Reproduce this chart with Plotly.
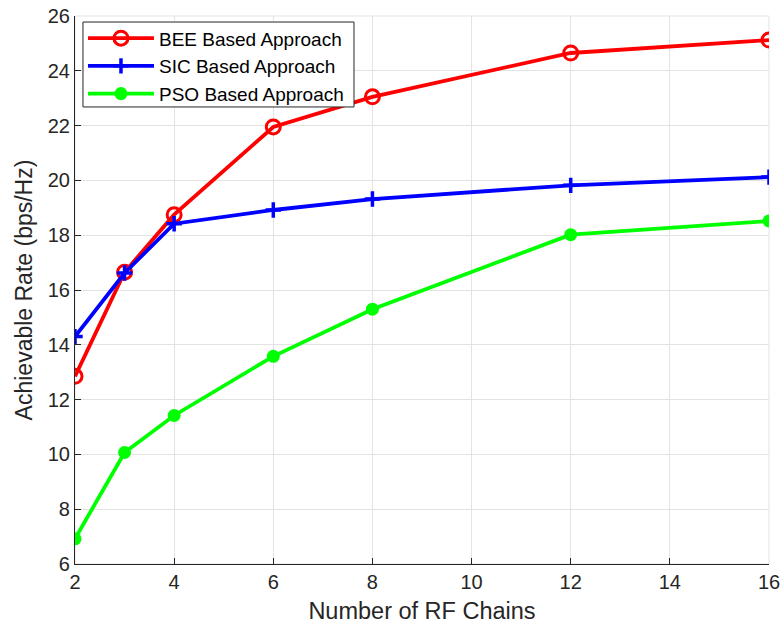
import plotly.graph_objects as go

rf_chains = [2, 3, 4, 6, 8, 12, 16]
bee_rate = [12.85, 16.65, 18.75, 21.95, 23.05, 24.65, 25.12]
sic_rate = [14.3, 16.62, 18.42, 18.92, 19.32, 19.82, 20.12]
pso_rate = [6.92, 10.07, 11.42, 13.58, 15.3, 18.02, 18.52]

x_ticks = [2, 4, 6, 8, 10, 12, 14, 16]
y_ticks = [6, 8, 10, 12, 14, 16, 18, 20, 22, 24, 26]

FONT = "Liberation Sans, Arial, Helvetica, sans-serif"
AX = "#262626"
GRID = "#e3e3e3"

fig = go.Figure()
fig.add_trace(go.Scatter(
    x=rf_chains, y=bee_rate, mode="lines+markers", name="BEE Based Approach",
    line=dict(color="#ff0000", width=3.8),
    marker=dict(symbol="circle-open", size=14, color="#ff0000", line=dict(width=3, color="#ff0000")),
))
fig.add_trace(go.Scatter(
    x=rf_chains, y=sic_rate, mode="lines+markers", name="SIC Based Approach",
    line=dict(color="#0000ff", width=3.8),
    marker=dict(symbol="cross-thin", size=11, color="#0000ff", line=dict(width=3.5, color="#0000ff")),
))
fig.add_trace(go.Scatter(
    x=rf_chains, y=pso_rate, mode="lines+markers", name="PSO Based Approach",
    line=dict(color="#00ff00", width=3.8),
    marker=dict(symbol="circle", size=13, color="#00ff00"),
))

fig.update_layout(
    width=784, height=631,
    margin=dict(l=75, r=15, t=16, b=66.5, autoexpand=False),
    paper_bgcolor="white", plot_bgcolor="white",
    font=dict(family=FONT, color=AX, size=20),
    showlegend=True,
    legend=dict(
        x=0.0115, y=0.994, xanchor="left", yanchor="top",
        bgcolor="rgba(0,0,0,0)", borderwidth=0,
        font=dict(family=FONT, size=19, color="#000000"),
        itemwidth=66, tracegroupgap=0,
    ),
    shapes=[
        dict(type="rect", xref="paper", yref="paper", x0=0, y0=0, x1=1, y1=1,
             line=dict(color=GRID, width=1), layer="below"),
        dict(type="rect", xref="paper", yref="paper", x0=0.0115, y0=0.834, x1=0.402, y1=0.989,
             line=dict(color=AX, width=1), fillcolor="white", layer="above"),
    ],
)
fig.update_xaxes(
    range=[2, 16], tickvals=x_ticks, ticktext=[str(v) for v in x_ticks],
    showgrid=True, gridcolor=GRID, gridwidth=1, zeroline=False, automargin=False,
    showline=True, linecolor=AX, linewidth=1.2, ticklabeloverflow="allow",
    ticks="inside", ticklen=6, tickcolor=AX,
    tickfont=dict(size=20, family=FONT, color=AX),
    title=dict(text="Number of RF Chains", font=dict(size=23.5, family=FONT, color=AX), standoff=10),
)
fig.update_yaxes(
    range=[6, 26], tickvals=y_ticks, ticktext=[str(v) for v in y_ticks],
    showgrid=True, gridcolor=GRID, gridwidth=1, zeroline=False, automargin=False,
    showline=True, linecolor=AX, linewidth=1.2, ticklabeloverflow="allow",
    ticks="inside", ticklen=6, tickcolor=AX,
    tickfont=dict(size=20, family=FONT, color=AX),
    title=dict(text="Achievable Rate (bps/Hz)", font=dict(size=23, family=FONT, color=AX), standoff=8),
)

fig.write_html("out.html", config={"displayModeBar": False},
               post_script="document.body.style.margin='0';")
